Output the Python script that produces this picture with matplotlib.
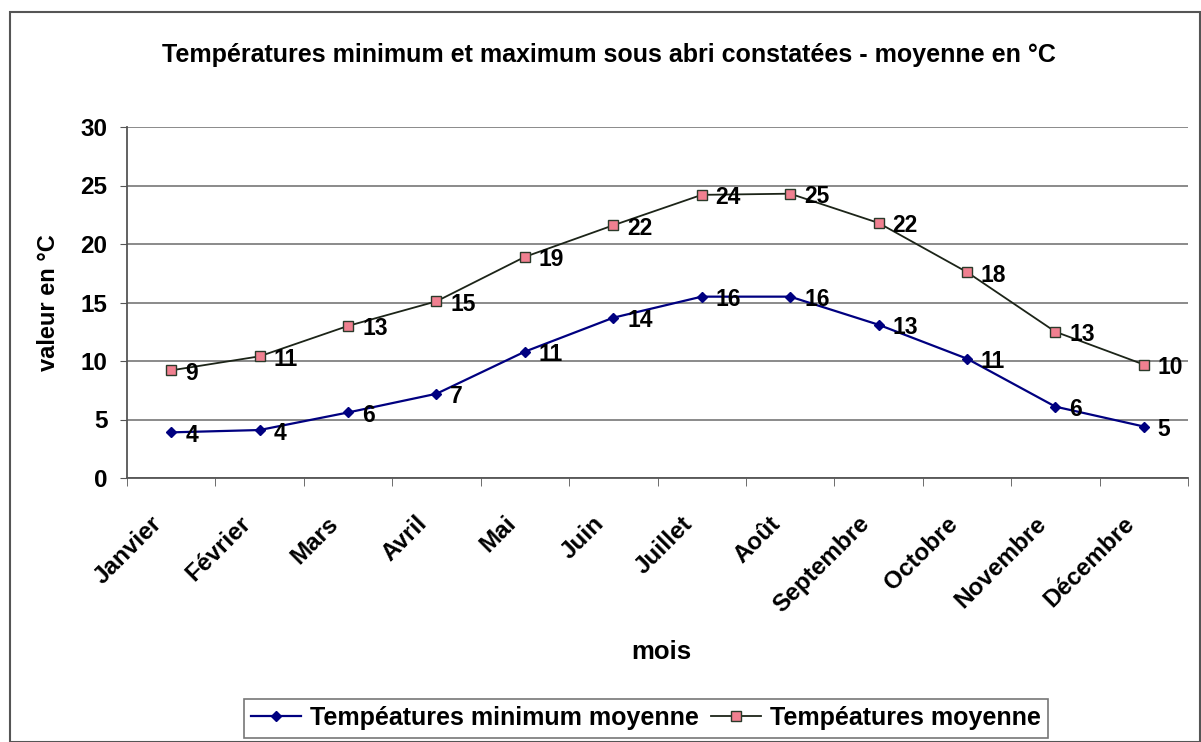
import matplotlib
matplotlib.use("Agg")
import matplotlib.pyplot as plt
from matplotlib.patches import Rectangle
from matplotlib.transforms import ScaledTranslation

months = ["Janvier", "Février", "Mars", "Avril", "Mai", "Juin", "Juillet",
          "Août", "Septembre", "Octobre", "Novembre", "Décembre"]
temp_min = [3.9, 4.1, 5.6, 7.2, 10.8, 13.7, 15.5, 15.5, 13.1, 10.2, 6.1, 4.4]
temp_min_labels = ["4", "4", "6", "7", "11", "14", "16", "16", "13", "11", "6", "5"]
temp_moy = [9.2, 10.4, 13.0, 15.1, 18.9, 21.6, 24.2, 24.3, 21.8, 17.6, 12.5, 9.7]
temp_moy_labels = ["9", "11", "13", "15", "19", "22", "24", "25", "22", "18", "13", "10"]
yticks = [0, 5, 10, 15, 20, 25, 30]

plt.rcParams['font.family'] = ['Liberation Sans', 'DejaVu Sans']

W, H = 1201, 742
fig = plt.figure(figsize=(W / 100, H / 100), dpi=100)
ax = fig.add_axes([127 / W, 1 - 478 / H, (1188 - 127) / W, (478 - 127) / H])

x = list(range(len(months)))
l1, = ax.plot(x, temp_min, color='#000080', lw=1.6, marker='D', ms=5.5,
              mfc='#000080', mec='#000080', label='Tempéatures minimum moyenne', zorder=3)
l2, = ax.plot(x, temp_moy, color='#1c2418', lw=1.3, marker='s', ms=7,
              mfc='#f08090', mec='#2a3a2a', mew=1.0, label='Tempéatures moyenne', zorder=3)

for xi, v, lab in zip(x, temp_min, temp_min_labels):
    ax.annotate(lab, (xi, v), xytext=(14, -3), textcoords='offset pixels',
                ha='left', va='center', fontsize=16.5, fontweight='bold', color='black')
for xi, v, lab in zip(x, temp_moy, temp_moy_labels):
    ax.annotate(lab, (xi, v), xytext=(14, -3), textcoords='offset pixels',
                ha='left', va='center', fontsize=16.5, fontweight='bold', color='black')

ax.set_xlim(-0.5, len(months) - 0.5)
ax.set_ylim(0, 30)
ax.set_yticks(yticks)
ax.set_yticklabels([str(t) for t in yticks], fontsize=17.5, fontweight='bold')
ax.yaxis.grid(True, color='#8a8a8a', lw=1.4)
ax.set_axisbelow(True)

ax.set_xticks(x)
ax.set_xticklabels(months, rotation=45, ha='right', va='top', rotation_mode='anchor',
                   fontsize=17.5, fontweight='bold')
ax.tick_params(axis='x', which='major', length=0, pad=0)
offset = ScaledTranslation(-21 / 100, -34 / 100, fig.dpi_scale_trans)
for lbl in ax.get_xticklabels():
    lbl.set_transform(lbl.get_transform() + offset)
ax.set_xticks([i - 0.5 for i in range(len(months) + 1)], minor=True)
ax.tick_params(axis='x', which='minor', length=6, direction='out', color='#555555')
ax.tick_params(axis='y', length=5, direction='out', color='#555555', pad=9)

for s in ['top', 'right']:
    ax.spines[s].set_visible(False)
for s in ['left', 'bottom']:
    ax.spines[s].set_color('#555555')
    ax.spines[s].set_linewidth(1.3)

ax.set_ylabel('valeur en °C', fontsize=17, fontweight='bold')
ax.yaxis.set_label_coords((60 - 127) / (1188 - 127), 0.5)
fig.text(661 / W, 1 - 652 / H, 'mois', ha='center', va='center', fontsize=18.5, fontweight='bold')

fig.text(609 / W, 1 - 55 / H, 'Températures minimum et maximum sous abri constatées - moyenne en °C',
         ha='center', va='center', fontsize=18, fontweight='bold')

leg = fig.legend(handles=[l1, l2], loc='center', bbox_to_anchor=(646 / W, 1 - 718 / H),
                 ncol=2, frameon=True, fancybox=False, edgecolor='#555555',
                 handlelength=2.0, handletextpad=0.35, columnspacing=0.5, borderpad=0.3,
                 prop={'weight': 'bold', 'size': 18})
leg.get_frame().set_linewidth(1.2)

fig.patches.append(Rectangle((10 / W, 0), 1 - 10 / W - 0.001, 1 - 12 / H,
                             transform=fig.transFigure, fill=False, ec='#555555', lw=1.5))

fig.savefig('out.png', dpi=100)
